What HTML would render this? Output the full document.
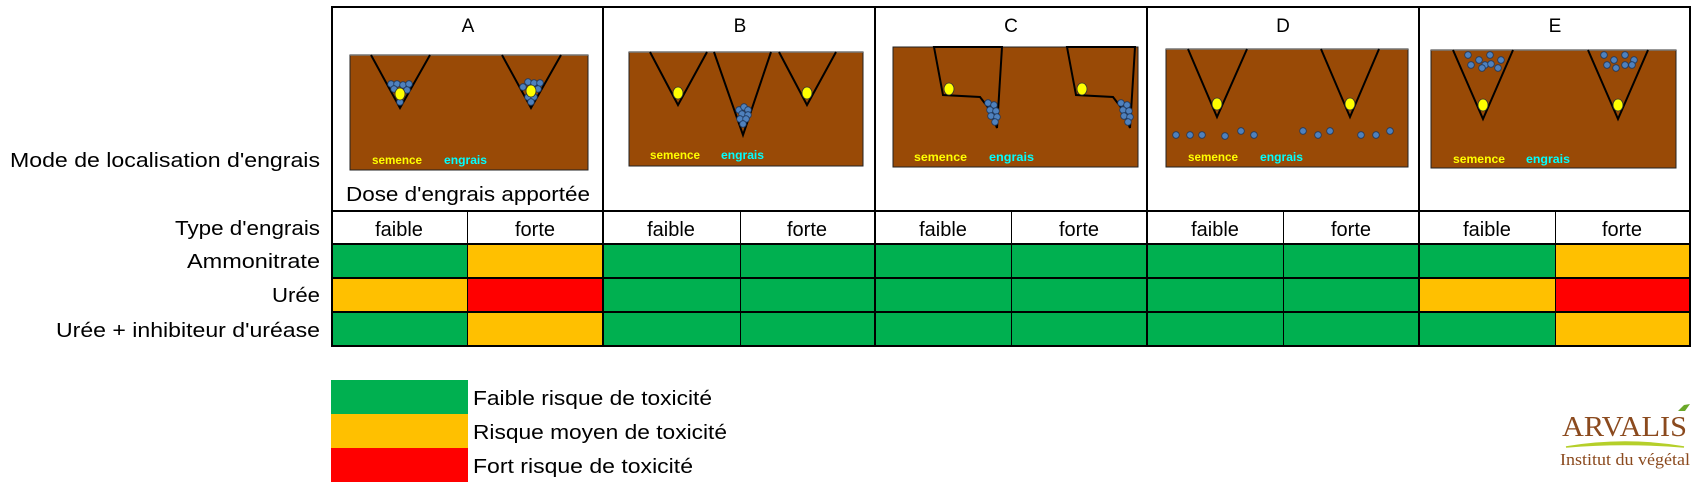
<!DOCTYPE html>
<html><head><meta charset="utf-8"><style>
html,body{margin:0;padding:0;background:#fff;width:1698px;height:492px;overflow:hidden}
svg{display:block}
.t{font-family:"Liberation Sans",sans-serif;fill:#000}
.s{font-family:"Liberation Sans",sans-serif;font-weight:bold;font-size:12px}
</style></head><body>
<svg width="1698" height="492" viewBox="0 0 1698 492" xmlns="http://www.w3.org/2000/svg">
<defs>
<g id="dot"><circle r="3.3" fill="#4f81bd" stroke="#1f3a60" stroke-width="0.8"/></g>
<g id="seed"><ellipse rx="5" ry="6" fill="#ffff00" stroke="#333" stroke-width="0.8"/></g>
</defs>
<g>
<rect x="331" y="244" width="136" height="34" fill="#00b050"/>
<rect x="467" y="244" width="136" height="34" fill="#ffc000"/>
<rect x="603" y="244" width="952" height="34" fill="#00b050"/>
<rect x="1555" y="244" width="135" height="34" fill="#ffc000"/>
<rect x="331" y="278" width="136" height="34" fill="#ffc000"/>
<rect x="467" y="278" width="136" height="34" fill="#ff0000"/>
<rect x="603" y="278" width="816" height="34" fill="#00b050"/>
<rect x="1419" y="278" width="136" height="34" fill="#ffc000"/>
<rect x="1555" y="278" width="135" height="34" fill="#ff0000"/>
<rect x="331" y="312" width="136" height="34" fill="#00b050"/>
<rect x="467" y="312" width="136" height="34" fill="#ffc000"/>
<rect x="603" y="312" width="952" height="34" fill="#00b050"/>
<rect x="1555" y="312" width="135" height="34" fill="#ffc000"/>
</g>
<g stroke="#000" stroke-width="2" fill="none">
<rect x="332" y="7" width="1358" height="339"/>
<line x1="331" y1="211" x2="1690" y2="211"/>
<line x1="331" y1="244" x2="1690" y2="244"/>
<line x1="331" y1="278" x2="1690" y2="278"/>
<line x1="331" y1="312" x2="1690" y2="312"/>
<line x1="603" y1="7" x2="603" y2="346"/>
<line x1="875" y1="7" x2="875" y2="346"/>
<line x1="1147" y1="7" x2="1147" y2="346"/>
<line x1="1419" y1="7" x2="1419" y2="346"/>
</g>
<g stroke="#000" stroke-width="1">
<line x1="467.5" y1="211" x2="467.5" y2="346"/>
<line x1="740.5" y1="211" x2="740.5" y2="346"/>
<line x1="1011.5" y1="211" x2="1011.5" y2="346"/>
<line x1="1283.5" y1="211" x2="1283.5" y2="346"/>
<line x1="1555.5" y1="211" x2="1555.5" y2="346"/>
</g>
<g class="t" font-size="19" text-anchor="middle">
<text x="468" y="32">A</text><text x="740" y="32">B</text><text x="1011" y="32">C</text><text x="1283" y="32">D</text><text x="1555" y="32">E</text>
</g>
<text class="t" x="346" y="201" font-size="20" textLength="244" lengthAdjust="spacingAndGlyphs">Dose d'engrais apportée</text>
<g class="t" font-size="20" text-anchor="middle">
<text x="399" y="236">faible</text><text x="535" y="236">forte</text>
<text x="671" y="236">faible</text><text x="807" y="236">forte</text>
<text x="943" y="236">faible</text><text x="1079" y="236">forte</text>
<text x="1215" y="236">faible</text><text x="1351" y="236">forte</text>
<text x="1487" y="236">faible</text><text x="1622" y="236">forte</text>
</g>
<g class="t" font-size="20">
<text x="10" y="167" textLength="310" lengthAdjust="spacingAndGlyphs">Mode de localisation d'engrais</text>
<text x="175" y="235" textLength="145" lengthAdjust="spacingAndGlyphs">Type d'engrais</text>
<text x="187" y="268" textLength="133" lengthAdjust="spacingAndGlyphs">Ammonitrate</text>
<text x="272" y="302" textLength="48" lengthAdjust="spacingAndGlyphs">Urée</text>
<text x="56" y="337" textLength="264" lengthAdjust="spacingAndGlyphs">Urée + inhibiteur d'uréase</text>
</g>

<rect x="350" y="55" width="238" height="115" fill="#994a06" stroke="#222" stroke-width="1"/>
<line x1="350" y1="55" x2="588" y2="55" stroke="#777" stroke-width="1.5"/>
<g stroke="#000" stroke-width="2" fill="none"><path d="M371 55 L400 108 L430 55"/><path d="M502 55 L531 108 L561 55"/></g>
<g>
<use href="#dot" x="391" y="84"/><use href="#dot" x="397" y="84"/><use href="#dot" x="403" y="85"/><use href="#dot" x="409" y="84"/><use href="#dot" x="394" y="89"/><use href="#dot" x="407" y="90"/><use href="#dot" x="400" y="102"/>
<use href="#seed" x="400" y="94"/>
<use href="#dot" x="528" y="82"/><use href="#dot" x="534" y="83"/><use href="#dot" x="540" y="83"/><use href="#dot" x="523" y="87"/><use href="#dot" x="538" y="89"/><use href="#dot" x="528" y="97"/><use href="#dot" x="534" y="97"/><use href="#dot" x="531" y="102"/>
<use href="#seed" x="531" y="91"/>
</g>
<text class="s" x="372" y="164" fill="#ffff00" textLength="50" lengthAdjust="spacingAndGlyphs">semence</text>
<text class="s" x="444" y="164" fill="#00ffff" textLength="43" lengthAdjust="spacingAndGlyphs">engrais</text>

<rect x="629" y="52" width="234" height="114" fill="#994a06" stroke="#222" stroke-width="1"/>
<line x1="629" y1="52" x2="863" y2="52" stroke="#777" stroke-width="1.5"/>
<g stroke="#000" stroke-width="2" fill="none"><path d="M650 52 L678 105 L707 52"/><path d="M714 52 L743 135 L771 52"/><path d="M779 52 L807 105 L836 52"/></g>
<use href="#seed" x="678" y="93"/><use href="#seed" x="807" y="93"/>
<g><use href="#dot" x="739" y="110"/><use href="#dot" x="744" y="107"/><use href="#dot" x="748" y="110"/><use href="#dot" x="742" y="114"/><use href="#dot" x="748" y="115"/><use href="#dot" x="740" y="119"/><use href="#dot" x="746" y="119"/><use href="#dot" x="743" y="124"/></g>
<text class="s" x="650" y="159" fill="#ffff00" textLength="50" lengthAdjust="spacingAndGlyphs">semence</text>
<text class="s" x="721" y="159" fill="#00ffff" textLength="43" lengthAdjust="spacingAndGlyphs">engrais</text>

<rect x="893" y="47" width="245" height="120" fill="#994a06" stroke="#222" stroke-width="1"/>
<g stroke="#000" stroke-width="2" fill="none">
<path d="M934 47 L943 95 L980 97 L990 110 L997 128 L1002 47 Z" fill="#994a06"/>
<path d="M1067 47 L1076 95 L1113 97 L1123 110 L1130 128 L1135 47 Z" fill="#994a06"/>
</g>
<use href="#seed" x="949" y="89"/><use href="#seed" x="1082" y="89"/>
<g><use href="#dot" x="988" y="103"/><use href="#dot" x="994" y="105"/><use href="#dot" x="990" y="110"/><use href="#dot" x="996" y="111"/><use href="#dot" x="991" y="116"/><use href="#dot" x="997" y="117"/><use href="#dot" x="995" y="122"/>
<use href="#dot" x="1121" y="103"/><use href="#dot" x="1127" y="105"/><use href="#dot" x="1123" y="110"/><use href="#dot" x="1129" y="111"/><use href="#dot" x="1124" y="116"/><use href="#dot" x="1130" y="117"/><use href="#dot" x="1128" y="122"/></g>
<text class="s" x="914" y="161" fill="#ffff00" textLength="53" lengthAdjust="spacingAndGlyphs">semence</text>
<text class="s" x="989" y="161" fill="#00ffff" textLength="45" lengthAdjust="spacingAndGlyphs">engrais</text>

<rect x="1166" y="49" width="242" height="118" fill="#994a06" stroke="#222" stroke-width="1"/>
<line x1="1166" y1="49" x2="1408" y2="49" stroke="#777" stroke-width="1.5"/>
<g stroke="#000" stroke-width="2" fill="none"><path d="M1188 49 L1217 117 L1247 49"/><path d="M1321 49 L1350 117 L1379 49"/></g>
<use href="#seed" x="1217" y="104"/><use href="#seed" x="1350" y="104"/>
<g><use href="#dot" x="1176" y="135"/><use href="#dot" x="1190" y="135"/><use href="#dot" x="1202" y="135"/><use href="#dot" x="1225" y="136"/><use href="#dot" x="1241" y="131"/><use href="#dot" x="1254" y="135"/><use href="#dot" x="1303" y="131"/><use href="#dot" x="1318" y="135"/><use href="#dot" x="1330" y="131"/><use href="#dot" x="1361" y="135"/><use href="#dot" x="1376" y="135"/><use href="#dot" x="1390" y="131"/></g>
<text class="s" x="1188" y="161" fill="#ffff00" textLength="50" lengthAdjust="spacingAndGlyphs">semence</text>
<text class="s" x="1260" y="161" fill="#00ffff" textLength="43" lengthAdjust="spacingAndGlyphs">engrais</text>

<rect x="1431" y="50" width="245" height="118" fill="#994a06" stroke="#222" stroke-width="1"/>
<line x1="1431" y1="50" x2="1676" y2="50" stroke="#777" stroke-width="1.5"/>
<g stroke="#000" stroke-width="2" fill="none"><path d="M1453 50 L1483 119 L1513 50"/><path d="M1588 50 L1618 119 L1648 50"/></g>
<use href="#seed" x="1483" y="105"/><use href="#seed" x="1618" y="105"/>
<g><use href="#dot" x="1468" y="55"/><use href="#dot" x="1490" y="55"/><use href="#dot" x="1479" y="60"/><use href="#dot" x="1501" y="60"/><use href="#dot" x="1471" y="65"/><use href="#dot" x="1485" y="65"/><use href="#dot" x="1491" y="64"/><use href="#dot" x="1498" y="68"/><use href="#dot" x="1482" y="68"/>
<use href="#dot" x="1604" y="55"/><use href="#dot" x="1625" y="55"/><use href="#dot" x="1614" y="60"/><use href="#dot" x="1634" y="60"/><use href="#dot" x="1607" y="65"/><use href="#dot" x="1625" y="65"/><use href="#dot" x="1632" y="65"/><use href="#dot" x="1616" y="68"/></g>
<text class="s" x="1453" y="163" fill="#ffff00" textLength="52" lengthAdjust="spacingAndGlyphs">semence</text>
<text class="s" x="1526" y="163" fill="#00ffff" textLength="44" lengthAdjust="spacingAndGlyphs">engrais</text>

<rect x="331" y="380" width="137" height="34" fill="#00b050"/>
<rect x="331" y="414" width="137" height="34" fill="#ffc000"/>
<rect x="331" y="448" width="137" height="34" fill="#ff0000"/>
<g class="t" font-size="20">
<text x="473" y="405" textLength="239" lengthAdjust="spacingAndGlyphs">Faible risque de toxicité</text>
<text x="473" y="439" textLength="254" lengthAdjust="spacingAndGlyphs">Risque moyen de toxicité</text>
<text x="473" y="473" textLength="220" lengthAdjust="spacingAndGlyphs">Fort risque de toxicité</text>
</g>

<text x="1562" y="436" font-family="Liberation Serif,serif" font-size="29" fill="#8b4a1e" textLength="125" lengthAdjust="spacingAndGlyphs">ARVALIS</text>
<path d="M1678 411 l6 -6 l6 -1 l-5 7 z" fill="#6aa829"/>
<path d="M1566 447 Q1625 437 1684 447 Q1625 442 1566 447 Z" fill="#b5cf2a" stroke="#b5cf2a" stroke-width="1.5"/>
<text x="1560" y="465" font-family="Liberation Serif,serif" font-size="17" fill="#8b4a1e" textLength="130" lengthAdjust="spacingAndGlyphs">Institut du végétal</text>
</svg>
</body></html>
